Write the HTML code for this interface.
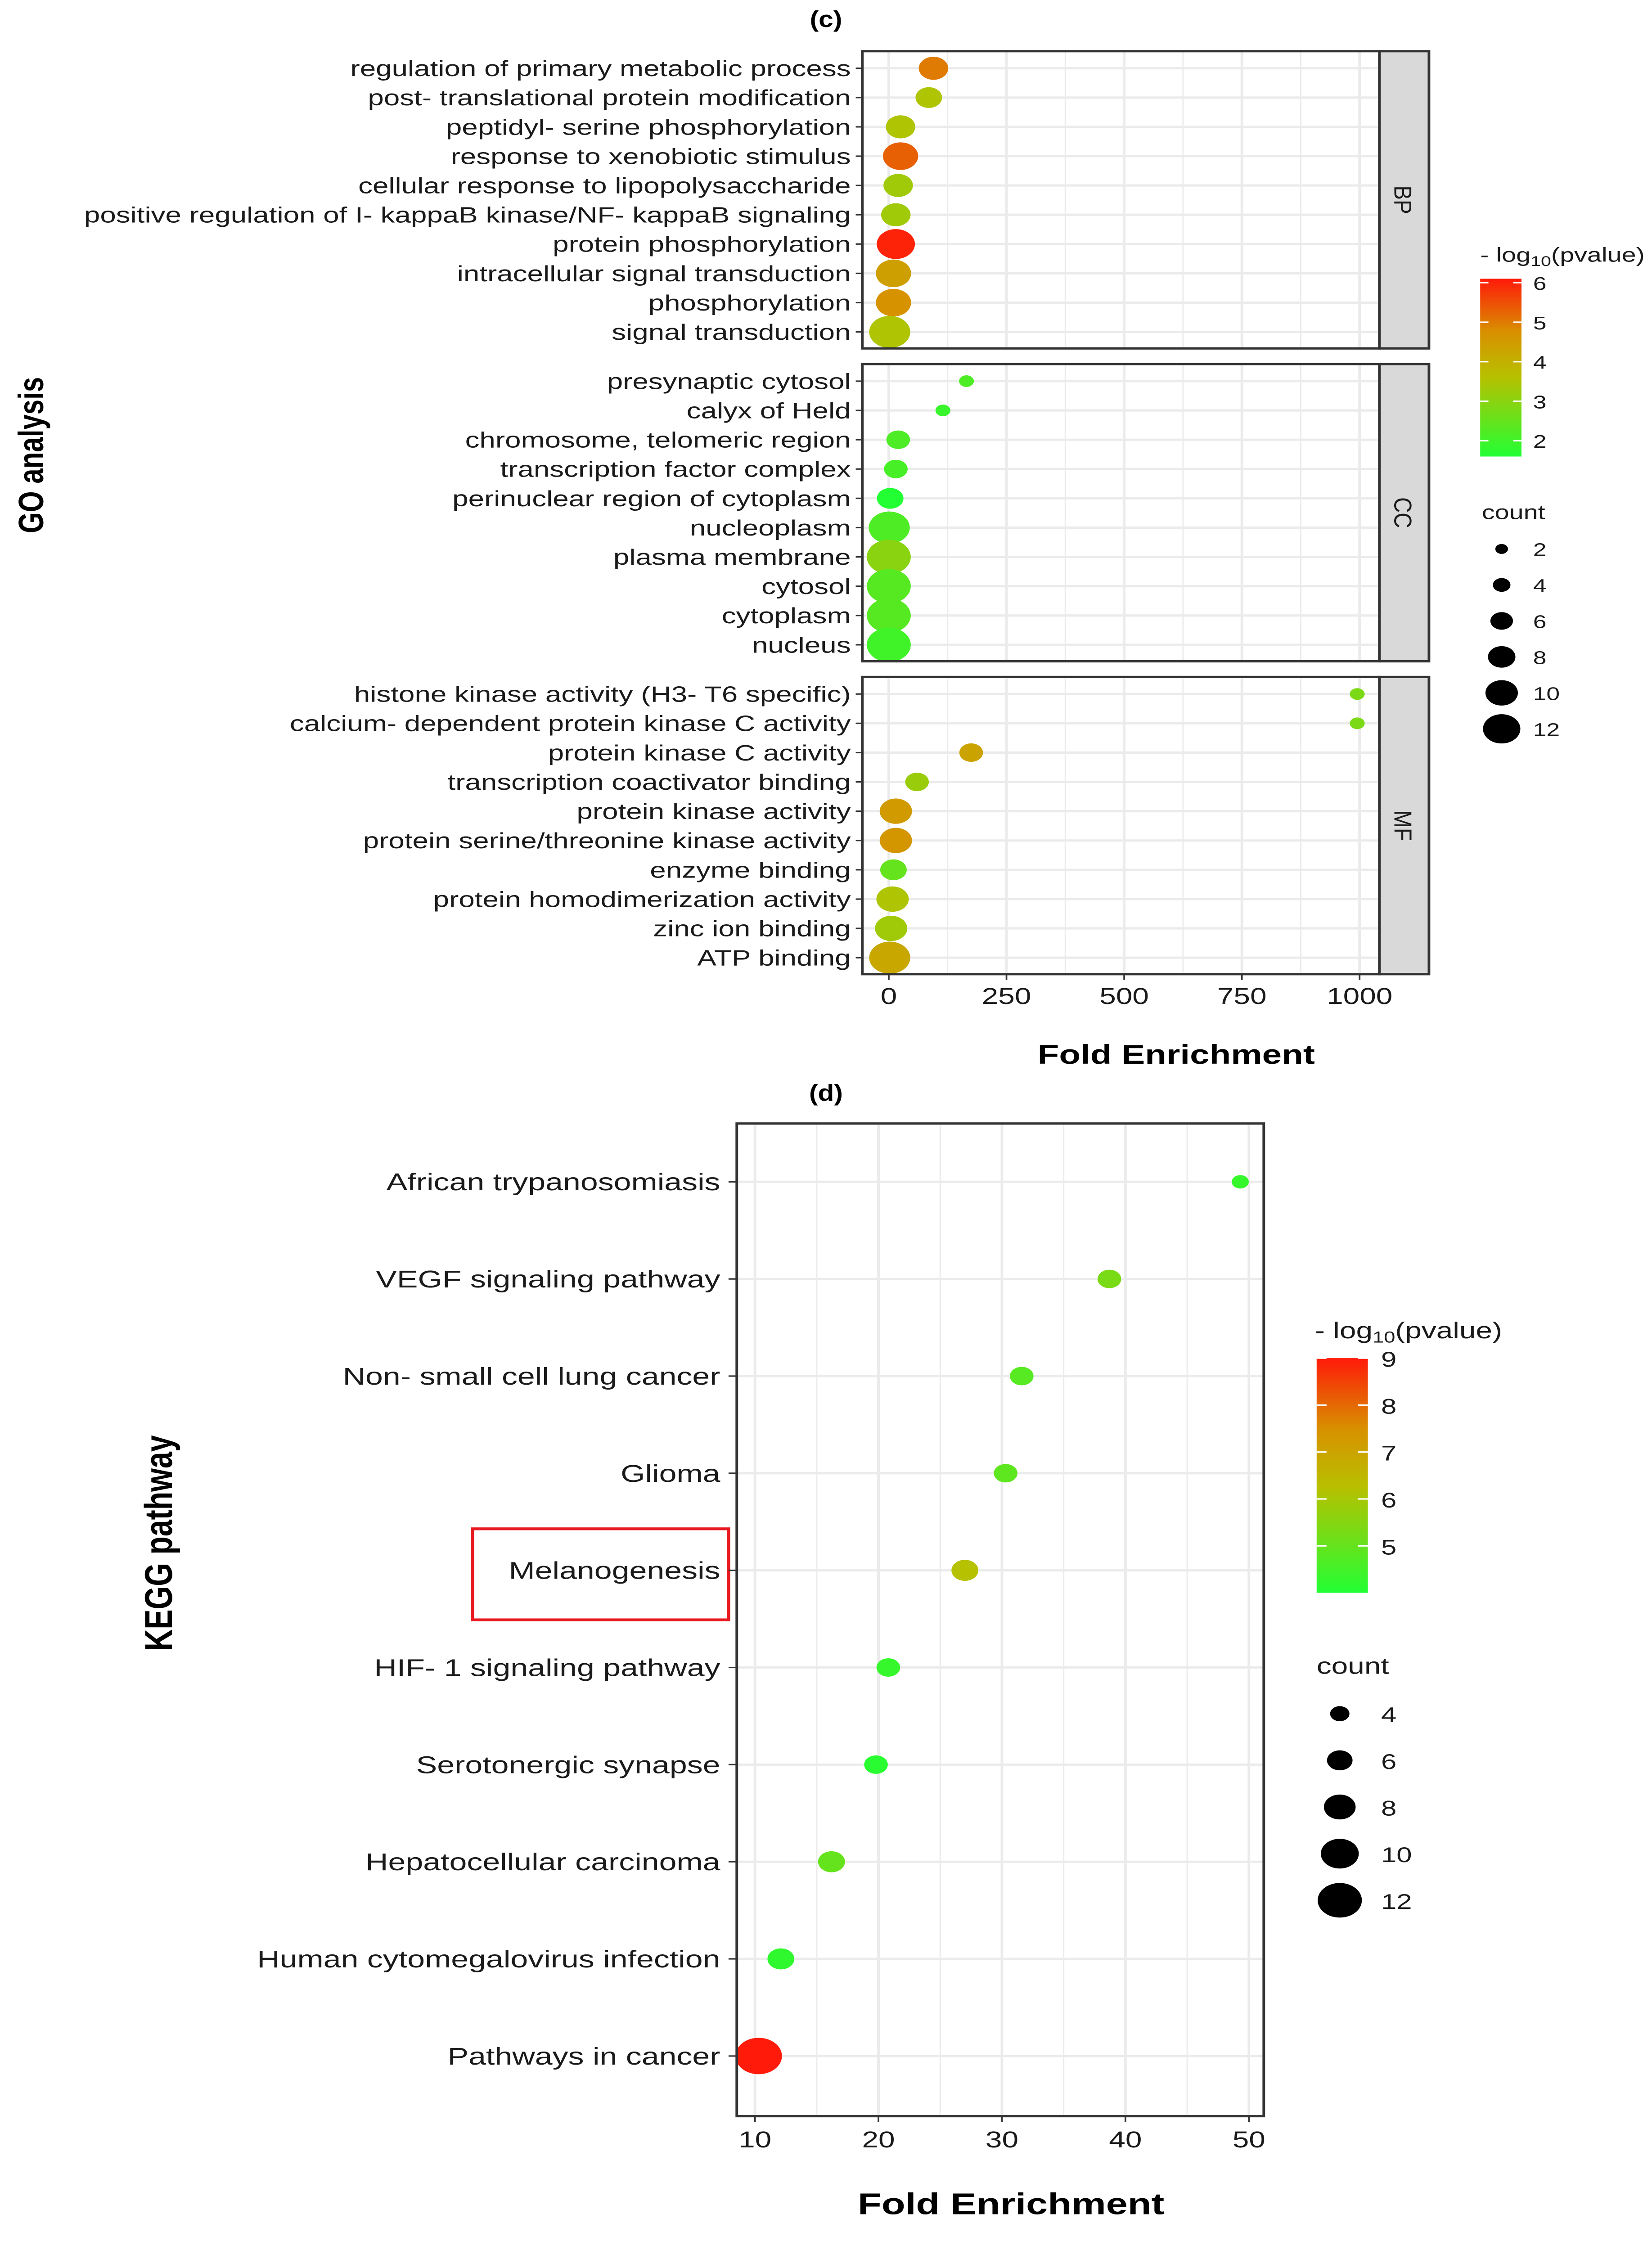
<!DOCTYPE html>
<html><head><meta charset="utf-8"><style>
html,body{margin:0;padding:0;background:#fff;overflow:hidden}
svg{display:block;position:fixed;left:0;top:0;width:100vw;height:100vh}
text{font-family:"Liberation Sans",sans-serif}
</style></head><body>
<svg id="fig" xmlns="http://www.w3.org/2000/svg" viewBox="0 0 1000 1582.1" preserveAspectRatio="none">
<rect width="1000" height="1582.1" fill="#fff"/>
<text x="500" y="19" font-family="Liberation Serif" font-size="16" font-weight="bold" text-anchor="middle">(c)</text>
<text x="500" y="774" font-family="Liberation Serif" font-size="16" font-weight="bold" text-anchor="middle">(d)</text>
<text transform="translate(26,320) rotate(-90) scale(1,1.12)" font-size="19" font-weight="bold" text-anchor="middle">GO analysis</text>
<text transform="translate(712,748) scale(1.12,1)" font-size="19" font-weight="bold" text-anchor="middle">Fold Enrichment</text>
<text transform="translate(104,1085) rotate(-90) scale(1,1.12)" font-size="21" font-weight="bold" text-anchor="middle">KEGG pathway</text>
<text transform="translate(612,1557) scale(1.12,1)" font-size="21" font-weight="bold" text-anchor="middle">Fold Enrichment</text>
<rect x="286" y="1075" width="155" height="64" fill="none" stroke="#e8191f" stroke-width="2"/>
<defs>
<linearGradient id="g1" x1="0" y1="1" x2="0" y2="0">
<stop offset="0" stop-color="#22ff33"/><stop offset="0.45" stop-color="#b8c000"/><stop offset="0.7" stop-color="#d89000"/><stop offset="1" stop-color="#ff1a0a"/></linearGradient>
</defs>
<g id="go"></g>
<g id="kegg"></g>
</svg>
<script>
const NS="http://www.w3.org/2000/svg";
// GO data
const bpTerms=["regulation of primary metabolic process","post- translational protein modification","peptidyl- serine phosphorylation","response to xenobiotic stimulus","cellular response to lipopolysaccharide","positive regulation of I- kappaB kinase/NF- kappaB signaling","protein phosphorylation","intracellular signal transduction","phosphorylation","signal transduction"];
const bpFold=[95,85,25,25,20,15,15,10,10,2];
const bpCount=[7,6,7,9,7,7,10,9,9,11];
const bpP=[5.0,3.5,3.5,5.3,3.3,3.3,6.0,4.4,4.7,3.5];
const ccTerms=["presynaptic cytosol","calyx of Held","chromosome, telomeric region","transcription factor complex","perinuclear region of cytoplasm","nucleoplasm","plasma membrane","cytosol","cytoplasm","nucleus"];
const ccFold=[165,115,20,15,3,1,0,0,0,0];
const ccCount=[2,2,5,5,6,11,12,12,12,12];
const ccP=[2.2,1.9,2.2,2.1,1.6,2.2,3.0,2.3,2.3,2.0];
const mfTerms=["histone kinase activity (H3- T6 specific)","calcium- dependent protein kinase C activity","protein kinase C activity","transcription coactivator binding","protein kinase activity","protein serine/threonine kinase activity","enzyme binding","protein homodimerization activity","zinc ion binding","ATP binding"];
const mfFold=[995,995,175,60,15,15,10,8,5,2];
const mfCount=[2,2,5,5,8,8,6,8,8,11];
const mfP=[2.8,2.8,4.3,3.2,4.5,4.6,2.5,3.5,3.3,4.2];
const goTicks=[0,250,500,750,1000];
const goPTicks=[2,3,4,5,6];
const goCountTicks=[2,4,6,8,10,12];
// KEGG data
const keggTerms=["African trypanosomiasis","VEGF signaling pathway","Non- small cell lung cancer","Glioma","Melanogenesis","HIF- 1 signaling pathway","Serotonergic synapse","Hepatocellular carcinoma","Human cytomegalovirus infection","Pathways in cancer"];
const keggFold=[49.3,38.7,31.6,30.3,27.0,20.8,19.8,16.2,12.1,10.3];
const keggCount=[3,5,5,5,6,5,5,6,6,12];
const keggP=[4.3,5.3,4.8,4.9,6.2,4.3,4.1,5.0,4.2,9.0];
const keggTicks=[10,20,30,40,50];
const keggPTicks=[5,6,7,8,9];
const keggCountTicks=[4,6,8,10,12];

const SX=1.12;
function el(tag,attrs,parent){const e=document.createElementNS(NS,tag);for(const k in attrs)e.setAttribute(k,attrs[k]);parent.appendChild(e);return e;}
function txt(x,y,size,anchor,parent){return el('text',{transform:`translate(${x},${y}) scale(${SX},1)`,'font-size':size,'text-anchor':anchor,fill:'#1a1a1a'},parent);}
function lerp(a,b,t){return a+(b-a)*t;}
const stops=[[0,[34,255,51]],[0.45,[184,192,0]],[0.7,[216,144,0]],[1,[255,26,10]]];
function colorAt(t){t=Math.max(0,Math.min(1,t));for(let i=1;i<stops.length;i++){if(t<=stops[i][0]){const a=stops[i-1],b=stops[i];const u=(t-a[0])/(b[0]-a[0]);return `rgb(${Math.round(lerp(a[1][0],b[1][0],u))},${Math.round(lerp(a[1][1],b[1][1],u))},${Math.round(lerp(a[1][2],b[1][2],u))})`;}}return "red";}

// ---- GO chart ----
const go=document.getElementById('go');
const gx=v=>538+v*0.285;
const goPmin=1.6,goPmax=6.1;
const goR=c=>2.5+0.8*c;
const panels=[["bp",bpTerms,bpFold,bpCount,bpP,36,"BP"],["cc",ccTerms,ccFold,ccCount,ccP,256,"CC"],["mf",mfTerms,mfFold,mfCount,mfP,476,"MF"]];
panels.forEach(([id,terms,fold,count,p,top,lab])=>{
  const h=209, rowStep=20.6, y0=top+12;
  const g=el('g',{},go);
  
  
  el('rect',{x:522,y:top,width:313,height:h,fill:'#fff'},g);
  for(let v=-125;v<=1125;v+=125){const x=gx(v);if(x<523||x>834)continue;el('line',{x1:x,x2:x,y1:top,y2:top+h,stroke:'#ebebeb','stroke-width':(v%250===0)?1.6:0.8},g);}
  terms.forEach((t,i)=>{const y=y0+i*rowStep;el('line',{x1:522,x2:835,y1:y,y2:y,stroke:'#ebebeb','stroke-width':1.6},g);
    el('line',{x1:518,x2:522,y1:y,y2:y,stroke:'#333','stroke-width':1},g);
    const tx=txt(515,y+5.5,15.5,'end',g);tx.textContent=t;
    
    });
  terms.forEach((t,i)=>{const y=y0+i*rowStep;const r=goR(count[i]);
    const c=el('ellipse',{cx:gx(fold[i]),cy:y,rx:r*1.1,ry:r,fill:colorAt((p[i]-goPmin)/(goPmax-goPmin))},g);
    
    });
  el('rect',{x:522,y:top,width:313,height:h,fill:'none',stroke:'#333','stroke-width':1.6},g);
  el('rect',{x:835,y:top,width:30,height:h,fill:'#d9d9d9',stroke:'#333','stroke-width':1.6},g);
  const st=el('text',{transform:`translate(844,${top+h/2}) rotate(90)`,'font-size':15,'text-anchor':'middle',fill:'#1a1a1a'},g);st.textContent=lab;
  
  
});
goTicks.forEach(v=>{el('line',{x1:gx(v),x2:gx(v),y1:685,y2:689,stroke:'#333'},go);
  const t=txt(gx(v),706,16,'middle',go);t.textContent=v;
  
  });
// GO legends
{const lt=txt(896,184,14,'start',go);lt.innerHTML='- log<tspan font-size="10" dy="3">10</tspan><tspan dy="-3">(pvalue)</tspan>';
 
 
 const cb=el('rect',{x:896,y:196,width:25,height:125,fill:'url(#g1)'},go);
 
 
 const cy=v=>321-(v-goPmin)/(goPmax-goPmin)*125;
 goPTicks.forEach(v=>{el('line',{x1:896,x2:901,y1:cy(v),y2:cy(v),stroke:'#fff'},go);el('line',{x1:916,x2:921,y1:cy(v),y2:cy(v),stroke:'#fff'},go);
  const t=txt(928,cy(v)+5,13,'start',go);t.textContent=v;
  
  });
 const ct=txt(897,365,14,'start',go);ct.textContent='count';
 
 
 goCountTicks.forEach((v,i)=>{const y=386+i*25.3;const r=goR(v)*0.85;el('ellipse',{cx:909,cy:y,rx:r*1.1,ry:r,fill:'#000'},go);
  const t=txt(928,y+5,13,'start',go);t.textContent=v;
  
  });
}

// ---- KEGG chart ----
const kg=document.getElementById('kegg');
const kx=v=>457+(v-10)*7.475;
const kPmin=4.0,kPmax=9.0;
const kR=c=>2+0.9*c;
const kTop=790,kH=698,ky0=831,kStep=68.3;
for(let v=10;v<=50;v+=5){el('line',{x1:kx(v),x2:kx(v),y1:kTop,y2:kTop+kH,stroke:'#ebebeb','stroke-width':v%10===0?1.6:0.8},kg);}
keggTerms.forEach((t,i)=>{const y=ky0+i*kStep;el('line',{x1:446,x2:765,y1:y,y2:y,stroke:'#ebebeb','stroke-width':1.6},kg);
  el('line',{x1:441,x2:446,y1:y,y2:y,stroke:'#333'},kg);
  const tx=txt(436,y+6,17,'end',kg);tx.textContent=t;
  
  });
keggTerms.forEach((t,i)=>{const y=ky0+i*kStep;const r=kR(keggCount[i]);
  const c=el('ellipse',{cx:kx(keggFold[i]),cy:y,rx:r*1.1,ry:r,fill:colorAt((keggP[i]-kPmin)/(kPmax-kPmin))},kg);
  
  });
el('rect',{x:446,y:kTop,width:319,height:kH,fill:'none',stroke:'#333','stroke-width':1.6},kg);
keggTicks.forEach(v=>{el('line',{x1:kx(v),x2:kx(v),y1:1488,y2:1492,stroke:'#333'},kg);
  const t=txt(kx(v),1510,16,'middle',kg);t.textContent=v;
  
  });
{const lt=txt(796,941,16,'start',kg);lt.innerHTML='- log<tspan font-size="11" dy="3">10</tspan><tspan dy="-3">(pvalue)</tspan>';
 
 
 const cb=el('rect',{x:797,y:955,width:31,height:165,fill:'url(#g1)'},kg);
 
 
 const cy=v=>1120-(v-kPmin)/(kPmax-kPmin)*165;
 keggPTicks.forEach(v=>{el('line',{x1:797,x2:803,y1:cy(v),y2:cy(v),stroke:'#fff'},kg);el('line',{x1:822,x2:828,y1:cy(v),y2:cy(v),stroke:'#fff'},kg);
  const t=txt(836,cy(v)+6,15,'start',kg);t.textContent=v;
  
  });
 const ct=txt(797,1177,16,'start',kg);ct.textContent='count';
 
 
 keggCountTicks.forEach((v,i)=>{const y=1205+i*32.8;const r=kR(v)*0.95;el('ellipse',{cx:811,cy:y,rx:r*1.1,ry:r,fill:'#000'},kg);
  const t=txt(836,y+6,15,'start',kg);t.textContent=v;
  
  });
}
</script>
</body></html>
